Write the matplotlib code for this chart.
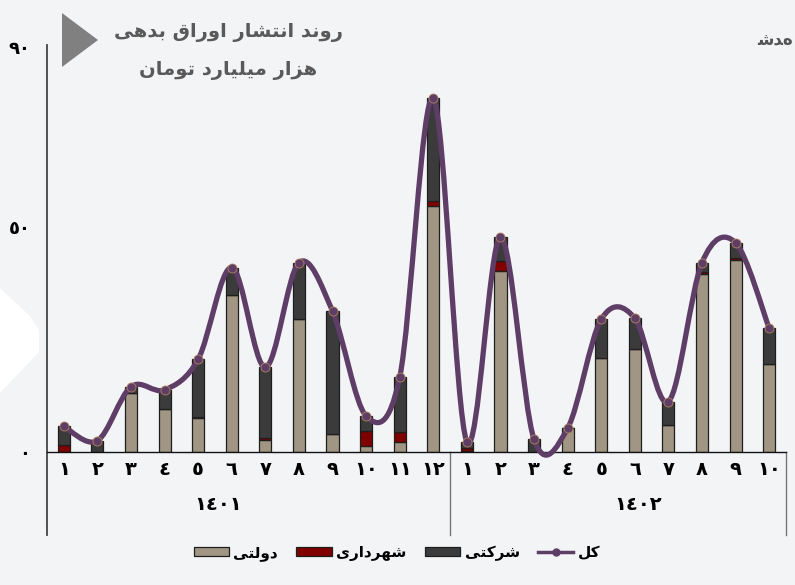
import numpy as np
import matplotlib
matplotlib.use("Agg")
import matplotlib.pyplot as plt
import matplotlib.transforms as mtransforms
from matplotlib.path import Path
from matplotlib.patches import PathPatch, Polygon, Patch
from matplotlib.lines import Line2D

# ---- data (thousand billion toman) ----
years = ["١٤٠١", "١٤٠٢"]
months_1401 = ["١", "٢", "٣", "٤", "٥", "٦", "٧", "٨", "٩", "١٠", "١١", "١٢"]
months_1402 = ["١", "٢", "٣", "٤", "٥", "٦", "٧", "٨", "٩", "١٠"]
month_labels = months_1401 + months_1402

gov = [0, 0, 13.2, 9.6, 7.5, 34.9, 2.7, 29.5, 3.9, 1.4, 2.2, 54.7,
       0.2, 40.3, 0, 5.3, 21.0, 22.8, 6.0, 39.6, 42.7, 19.5]
muni = [1.5, 0, 0, 0, 0.2, 0, 0.5, 0, 0, 3.3, 2.3, 1.1,
        0.7, 2.2, 0, 0, 0, 0, 0, 0.5, 0.4, 0]
corp = [4.2, 2.5, 1.3, 4.2, 12.9, 6.1, 15.6, 12.6, 27.4, 3.3, 12.1, 22.8,
        1.4, 5.2, 2.8, 0, 8.5, 6.9, 5.2, 2.0, 3.4, 8.0]

ytick_vals = [0, 50, 90]
ytick_labels = ["٠", "٥٠", "٩٠"]

title_1 = "روند انتشار اوراق بدهی"
title_2 = "هزار میلیارد تومان"
leg_gov = "دولتی"
leg_muni = "شهرداری"
leg_corp = "شرکتی"
leg_total = "کل"

BG = "#f3f4f6"
C_GOV = "#a09683"
C_MUNI = "#800000"
C_CORP = "#3b3b3b"
C_LINE = "#5e3d66"
C_TITLE = "#595959"

# Arabic presentation forms: isolated, final, initial, medial
FORMS = {
    "\u0627": ("\uFE8D", "\uFE8E", None, None),
    "\u0628": ("\uFE8F", "\uFE90", "\uFE91", "\uFE92"),
    "\u062A": ("\uFE95", "\uFE96", "\uFE97", "\uFE98"),
    "\u062F": ("\uFEA9", "\uFEAA", None, None),
    "\u0631": ("\uFEAD", "\uFEAE", None, None),
    "\u0632": ("\uFEAF", "\uFEB0", None, None),
    "\u0634": ("\uFEB5", "\uFEB6", "\uFEB7", "\uFEB8"),
    "\u0642": ("\uFED5", "\uFED6", "\uFED7", "\uFED8"),
    "\u0644": ("\uFEDD", "\uFEDE", "\uFEDF", "\uFEE0"),
    "\u0645": ("\uFEE1", "\uFEE2", "\uFEE3", "\uFEE4"),
    "\u0646": ("\uFEE5", "\uFEE6", "\uFEE7", "\uFEE8"),
    "\u0647": ("\uFEE9", "\uFEEA", "\uFEEB", "\uFEEC"),
    "\u0648": ("\uFEED", "\uFEEE", None, None),
    "\u06CC": ("\uFBFC", "\uFBFD", "\uFBFE", "\uFBFF"),
    "\u06A9": ("\uFB8E", "\uFB8F", "\uFB90", "\uFB91"),
}


def shape(text: str) -> str:
    """Join Persian letters and put them in visual (left-to-right) order"""
    out = []
    for i, ch in enumerate(text):
        if ch not in FORMS:
            out.append(ch)
            continue
        prev = text[i - 1] if i > 0 else ""
        nxt = text[i + 1] if i + 1 < len(text) else ""
        join_prev = prev in FORMS and FORMS[prev][2] is not None
        join_next = FORMS[ch][2] is not None and nxt in FORMS
        iso, fin, ini, med = FORMS[ch]
        if join_prev and join_next:
            out.append(med)
        elif join_prev:
            out.append(fin)
        elif join_next:
            out.append(ini)
        else:
            out.append(iso)
    return "".join(reversed(out))


def smooth_path(x, y) -> Path:
    """Bezier path through all points (spreadsheet-style smoothed line)"""
    pts = np.column_stack([x, y]).astype(float)
    ext = np.vstack([pts[0], pts, pts[-1]])
    verts = [pts[0]]
    codes = [Path.MOVETO]
    for i in range(len(pts) - 1):
        p0, p1, p2, p3 = ext[i], ext[i + 1], ext[i + 2], ext[i + 3]
        verts += [p1 + (p2 - p0) / 6.0, p2 - (p3 - p1) / 6.0, p2]
        codes += [Path.CURVE4] * 3
    return Path(verts, codes)


plt.rcParams["font.family"] = ["DejaVu Sans"]
fig = plt.figure(figsize=(7.95, 5.85), dpi=100, facecolor=BG)
ax = fig.add_axes([47 / 795, 1 - 452 / 585, 739 / 795, 405 / 585])
ax.set_facecolor(BG)

# white decorative shape on the left edge
fig.patches.append(Polygon(
    [(0, 1 - 288 / 585), (30, 1 - 316 / 585), (39, 1 - 330 / 585),
     (39, 1 - 352 / 585), (0, 1 - 393 / 585)],
    closed=True, transform=mtransforms.Affine2D().scale(1 / 795, 1)
    + fig.transFigure, facecolor="white", edgecolor="none", zorder=0))

xs = np.arange(len(month_labels))
gov_a = np.array(gov)
muni_a = np.array(muni)
corp_a = np.array(corp)
total = gov_a + muni_a + corp_a

w = 0.36
bk = dict(width=w, edgecolor="#1e1e1e", linewidth=0.9, zorder=2)
b_gov = ax.bar(xs, gov_a, color=C_GOV, **bk)
b_muni = ax.bar(xs, muni_a, bottom=gov_a, color=C_MUNI, **bk)
b_corp = ax.bar(xs, corp_a, bottom=gov_a + muni_a, color=C_CORP, **bk)

ax.add_patch(PathPatch(smooth_path(xs, total), facecolor="none",
                       edgecolor=C_LINE, linewidth=3.8, capstyle="round",
                       joinstyle="round", zorder=3, clip_on=False))
ax.plot(xs, total, linestyle="none", marker="o", markersize=6.5,
        markerfacecolor=C_LINE, markeredgecolor="#b5835e",
        markeredgewidth=0.6, zorder=4, clip_on=False)

ax.set_xlim(-0.5, len(month_labels) - 0.5)
ax.set_ylim(0, 90)
for s in ["top", "right", "left"]:
    ax.spines[s].set_visible(False)
ax.spines["bottom"].set_color("#111111")
ax.spines["bottom"].set_linewidth(1.0)

ax.set_xticks(xs)
ax.set_xticklabels(month_labels, fontsize=14, fontweight="bold")
ax.set_yticks(ytick_vals)
ax.set_yticklabels(ytick_labels, fontsize=13, fontweight="bold")
ax.tick_params(axis="x", length=0, pad=6)
ax.tick_params(axis="y", length=0, pad=12)

# axis and group separator lines below the plot
trans = mtransforms.blended_transform_factory(ax.transData, ax.transAxes)
ax.plot([-0.5, -0.5], [1.005, -0.205], color="#444444", lw=1.3,
        transform=trans, clip_on=False)
for xv in [11.5, len(month_labels) - 0.5]:
    ax.plot([xv, xv], [0, -0.205], color="#777777", lw=1.0,
            transform=trans, clip_on=False)
ax.text(4.6, -0.13, years[0], transform=trans, ha="center", va="center",
        fontsize=14, fontweight="bold")
ax.text(17.1, -0.13, years[1], transform=trans, ha="center", va="center",
        fontsize=14, fontweight="bold")

# title block
fig.patches.append(Polygon(
    [(62 / 795, 1 - 13 / 585), (62 / 795, 1 - 67 / 585),
     (98 / 795, 1 - 40 / 585)], closed=True, transform=fig.transFigure,
    facecolor="#808080", edgecolor="none"))
fig.text(228 / 795, 1 - 32 / 585, shape(title_1), ha="center", va="center",
         fontsize=14, fontweight="bold", color=C_TITLE)
fig.text(228 / 795, 1 - 70 / 585, shape(title_2), ha="center", va="center",
         fontsize=14, fontweight="bold", color=C_TITLE)
fig.text(793 / 795, 1 - 40 / 585, "\uFEB7\uFEAA\uFEE9", ha="right",
         va="center", fontsize=12, fontweight="bold", color="#555555")

# legend
handles = [
    Patch(facecolor=C_GOV, edgecolor="#1e1e1e", linewidth=0.9),
    Patch(facecolor=C_MUNI, edgecolor="#1e1e1e", linewidth=0.9),
    Patch(facecolor=C_CORP, edgecolor="#1e1e1e", linewidth=0.9),
    Line2D([], [], color=C_LINE, lw=2.5, marker="o", markersize=5),
]
labels = [shape(t) for t in [leg_gov, leg_muni, leg_corp, leg_total]]
fig.legend(handles, labels, loc="center", bbox_to_anchor=(397 / 795, 1 - 553 / 585),
           ncol=4, frameon=False, handlelength=2.3, handleheight=0.6,
           handletextpad=0.3, columnspacing=1.2,
           prop=dict(size=11, weight="bold"))

fig.savefig("out.png", dpi=100, facecolor=BG)
